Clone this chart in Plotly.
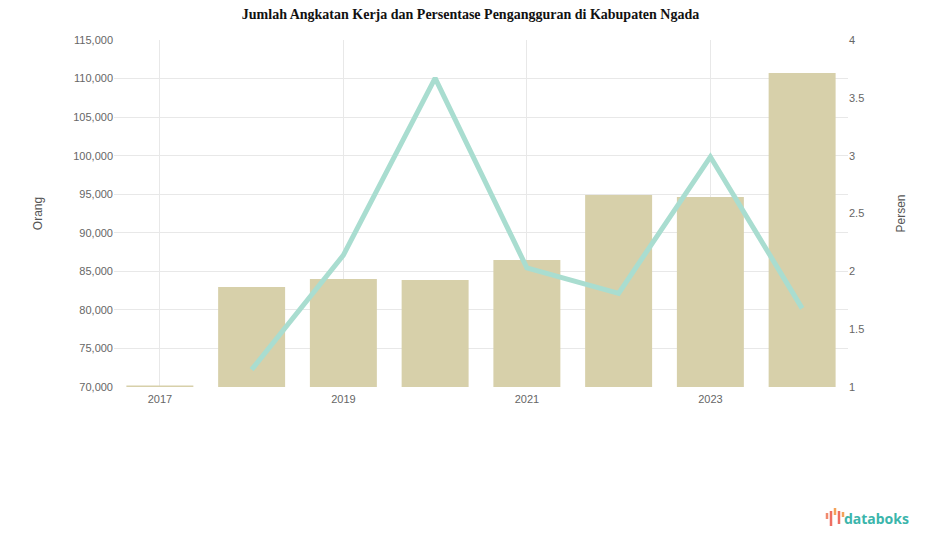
import plotly.graph_objects as go

years = ["2017", "2018", "2019", "2020", "2021", "2022", "2023", "2024"]
angkatan_kerja = [70200, 82970, 84000, 83870, 86470, 94900, 94640, 110720]
pengangguran = [None, 1.15, 2.14, 3.67, 2.03, 1.81, 2.99, 1.68]
x_ticks = ["2017", "2019", "2021", "2023"]
left_ticks = [70000, 75000, 80000, 85000, 90000, 95000, 100000, 105000, 110000, 115000]
right_ticks = [1, 1.5, 2, 2.5, 3, 3.5, 4]

fig = go.Figure()
fig.add_trace(go.Bar(
    x=years, y=angkatan_kerja, name="Angkatan Kerja",
    marker=dict(color="#d7d0aa", line=dict(width=0)),
    yaxis="y",
))
fig.add_trace(go.Scatter(
    x=years, y=pengangguran, name="Persentase Pengangguran",
    mode="lines", line=dict(color="#a9ddd0", width=5),
    yaxis="y2", connectgaps=False,
))

# small logo glyph (decoration)
def px(sx):
    return (sx - 114) / 734

def py(sy):
    return (387 - sy) / 347

glyph = [(827, 513, 519, "#f08a6e"), (831, 511, 526, "#ee6f63"), (835, 508, 515, "#f4a35a"),
         (839, 511, 524, "#ee6f63"), (843, 512, 517, "#f4a35a")]
shapes = [dict(type="line", xref="paper", yref="paper", x0=px(x), x1=px(x), y0=py(a), y1=py(b),
               line=dict(color=c, width=2.5)) for x, a, b, c in glyph]

fig.update_layout(
    width=925, height=547,
    margin=dict(l=106, r=85, t=32, b=168),
    paper_bgcolor="white", plot_bgcolor="white",
    showlegend=False,
    bargap=0.27,
    title=dict(text="<b>Jumlah Angkatan Kerja dan Persentase Pengangguran di Kabupaten Ngada</b>",
               x=0.5, xanchor="center", y=0.988, yanchor="middle",
               font=dict(family="Liberation Serif", size=14, color="#111")),
    font=dict(family="Liberation Sans", size=11, color="#666"),
    xaxis=dict(type="category", tickmode="array", tickvals=x_ticks, ticktext=x_ticks,
               showgrid=True, gridcolor="#e8e8e8", gridwidth=1, showline=False,
               ticks="", tickfont=dict(size=11, color="#666"), zeroline=False,
               ticklabelstandoff=4),
    yaxis=dict(range=[70000, 115000], tickmode="array", tickvals=left_ticks,
               tickformat=",", showgrid=True, gridcolor="#e8e8e8", zeroline=False,
               title=dict(text="Orang", font=dict(size=12, color="#555"), standoff=28),
               ticks=""),
    yaxis2=dict(range=[1, 4], overlaying="y", side="right", tickmode="array",
                tickvals=right_ticks, showgrid=False, zeroline=False,
                title=dict(text="Persen", font=dict(size=12, color="#555"), standoff=33),
                ticks=""),
    shapes=shapes,
    annotations=[dict(text="<b>databoks</b>", x=px(911), y=py(518), xref="paper", yref="paper",
                      xanchor="right", yanchor="middle", showarrow=False,
                      font=dict(family="Noto Sans", size=14, color="#3bb5ab"))],
)

fig.write_html("out.html")
